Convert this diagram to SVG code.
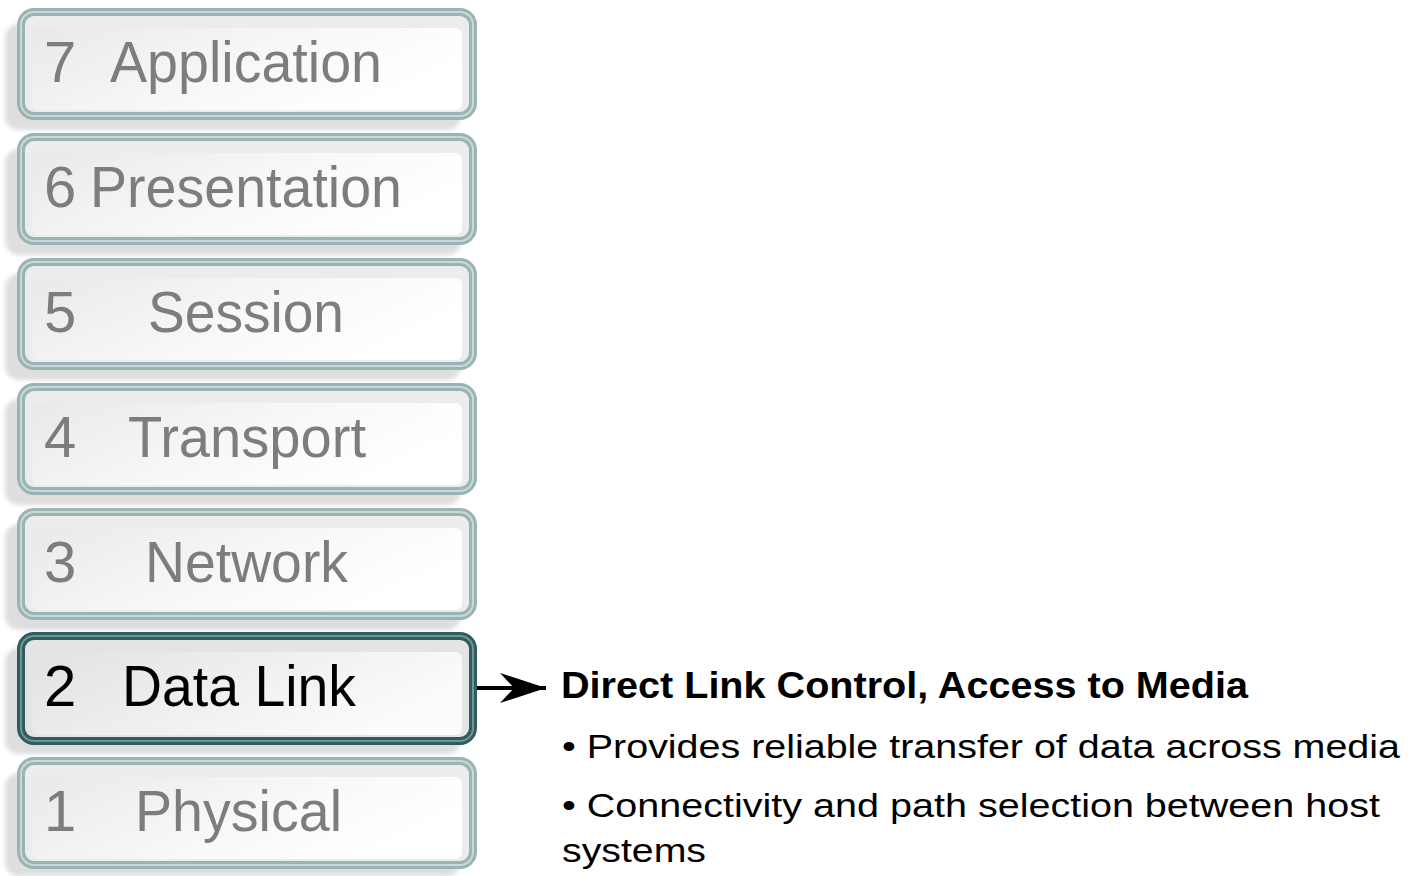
<svg xmlns="http://www.w3.org/2000/svg" width="1410" height="876" viewBox="0 0 1410 876">
  <defs>
    <linearGradient id="panel" x1="0" y1="0" x2="1" y2="0.4">
      <stop offset="0" stop-color="#e9e9e9"/>
      <stop offset="0.6" stop-color="#f8f8f8"/>
      <stop offset="1" stop-color="#ffffff"/>
    </linearGradient>
    <linearGradient id="panelActive" x1="0" y1="0" x2="1" y2="0.4">
      <stop offset="0" stop-color="#e2e2e2"/>
      <stop offset="0.6" stop-color="#f1f1f1"/>
      <stop offset="1" stop-color="#fbfbfb"/>
    </linearGradient>
    <filter id="soft" x="-10%" y="-20%" width="120%" height="140%">
      <feGaussianBlur stdDeviation="2"/>
    </filter>
    <marker id="head" viewBox="0 0 48 32" refX="46" refY="16" markerWidth="48" markerHeight="32" markerUnits="userSpaceOnUse" orient="auto">
      <path d="M0,1 L46,16 L0,31 L14,16 Z" fill="#000"/>
    </marker>
    <style>
      .shadow { fill: #dedede; filter: url(#soft); }
      .frame { fill: #ececec; stroke: #9ab3b3; stroke-width: 8; }
      .frame-line { fill: none; stroke: #c9d9d9; stroke-width: 2; }
      .inner { fill: url(#panel); }
      .frame.active { fill: #e4e4e4; stroke: #305c5c; }
      .frame-line.active { stroke: #6f9696; }
      .inner.active { fill: url(#panelActive); }
      .lbl { font-family: "Liberation Sans", Arial, sans-serif; font-size: 58px; fill: #7d7d7d; }
      .lbl.active { fill: #000; }
      .head { font-family: "Liberation Sans", Arial, sans-serif; font-size: 36px; font-weight: bold; fill: #000; }
      .body { font-family: "Liberation Sans", Arial, sans-serif; font-size: 34px; fill: #000; }
      .conn { stroke: #000; stroke-width: 4; fill: none; }
    </style>
  </defs>
  <rect width="1410" height="876" fill="#fff"/>

  <!-- OSI layer stack -->
  <g id="layer7">
    <rect class="shadow" x="5" y="24" width="456" height="106" rx="14"/>
    <rect class="frame" x="21" y="12" width="452" height="104" rx="13"/>
    <rect class="frame-line" x="21" y="12" width="452" height="104" rx="13"/>
    <rect class="inner" x="32" y="28" width="430" height="82" rx="6"/>
    <text class="lbl" x="44" y="82">7</text>
    <text class="lbl" x="110" y="82" textLength="272" lengthAdjust="spacingAndGlyphs">Application</text>
  </g>
  <g id="layer6">
    <rect class="shadow" x="5" y="149" width="456" height="106" rx="14"/>
    <rect class="frame" x="21" y="137" width="452" height="104" rx="13"/>
    <rect class="frame-line" x="21" y="137" width="452" height="104" rx="13"/>
    <rect class="inner" x="32" y="153" width="430" height="82" rx="6"/>
    <text class="lbl" x="44" y="207">6</text>
    <text class="lbl" x="90" y="207" textLength="312" lengthAdjust="spacingAndGlyphs">Presentation</text>
  </g>
  <g id="layer5">
    <rect class="shadow" x="5" y="274" width="456" height="106" rx="14"/>
    <rect class="frame" x="21" y="262" width="452" height="104" rx="13"/>
    <rect class="frame-line" x="21" y="262" width="452" height="104" rx="13"/>
    <rect class="inner" x="32" y="278" width="430" height="82" rx="6"/>
    <text class="lbl" x="44" y="332">5</text>
    <text class="lbl" x="148" y="332" textLength="196" lengthAdjust="spacingAndGlyphs">Session</text>
  </g>
  <g id="layer4">
    <rect class="shadow" x="5" y="399" width="456" height="106" rx="14"/>
    <rect class="frame" x="21" y="387" width="452" height="104" rx="13"/>
    <rect class="frame-line" x="21" y="387" width="452" height="104" rx="13"/>
    <rect class="inner" x="32" y="403" width="430" height="82" rx="6"/>
    <text class="lbl" x="44" y="457">4</text>
    <text class="lbl" x="128" y="457" textLength="238" lengthAdjust="spacingAndGlyphs">Transport</text>
  </g>
  <g id="layer3">
    <rect class="shadow" x="5" y="524" width="456" height="106" rx="14"/>
    <rect class="frame" x="21" y="512" width="452" height="104" rx="13"/>
    <rect class="frame-line" x="21" y="512" width="452" height="104" rx="13"/>
    <rect class="inner" x="32" y="528" width="430" height="82" rx="6"/>
    <text class="lbl" x="44" y="582">3</text>
    <text class="lbl" x="145" y="582" textLength="203" lengthAdjust="spacingAndGlyphs">Network</text>
  </g>
  <g id="layer2">
    <rect class="shadow" x="5" y="648" width="456" height="106" rx="14"/>
    <rect class="frame active" x="21" y="636" width="452" height="105" rx="13"/>
    <rect class="frame-line active" x="21" y="636" width="452" height="105" rx="13"/>
    <rect class="inner active" x="32" y="652" width="430" height="83" rx="6"/>
    <text class="lbl active" x="44" y="706">2</text>
    <text class="lbl active" x="122" y="706" textLength="234" lengthAdjust="spacingAndGlyphs">Data Link</text>
  </g>
  <g id="layer1">
    <rect class="shadow" x="5" y="773" width="456" height="103" rx="14"/>
    <rect class="frame" x="21" y="761" width="452" height="104" rx="13"/>
    <rect class="frame-line" x="21" y="761" width="452" height="104" rx="13"/>
    <rect class="inner" x="32" y="777" width="430" height="82" rx="6"/>
    <text class="lbl" x="44" y="831">1</text>
    <text class="lbl" x="135" y="831" textLength="207" lengthAdjust="spacingAndGlyphs">Physical</text>
  </g>

  <!-- connector from the Data Link layer to its description -->
  <g id="connectors">
    <line class="conn" x1="477" y1="688" x2="546" y2="688" marker-end="url(#head)"/>
  </g>

  <!-- description of layer 2 -->
  <g id="description">
    <text class="head" x="561" y="698" textLength="687" lengthAdjust="spacingAndGlyphs">Direct Link Control, Access to Media</text>
    <text class="body" x="562" y="758" textLength="838" lengthAdjust="spacingAndGlyphs">• Provides reliable transfer of data across media</text>
    <text class="body" x="562" y="817" textLength="818" lengthAdjust="spacingAndGlyphs">• Connectivity and path selection between host</text>
    <text class="body" x="562" y="862" textLength="144" lengthAdjust="spacingAndGlyphs">systems</text>
  </g>
</svg>
